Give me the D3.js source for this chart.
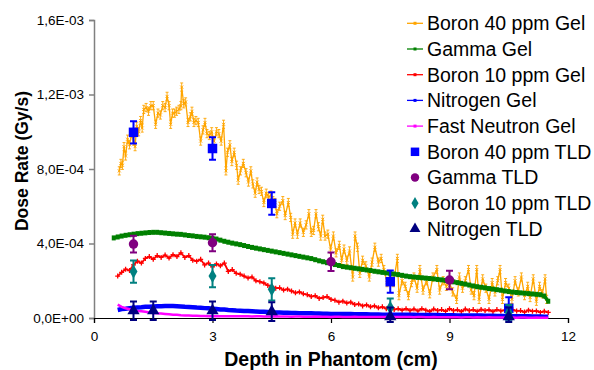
<!DOCTYPE html>
<html>
<head>
<meta charset="utf-8">
<script src="https://cdn.jsdelivr.net/npm/d3@7"></script>
<style>
  body { margin: 0; background: #fff; }
  svg { display: block; font-family: "Liberation Sans", Arial, sans-serif; }
</style>
</head>
<body>
<div class="chart"></div>
<script>
// dose rates are in units of 1e-4 Gy/s
var yTickValues = [0, 4, 8, 12, 16];
var yTickLabels = ["0,0E+00", "4,0E-04", "8,0E-04", "1,2E-03", "1,6E-03"];
var xTickValues = [0, 3, 6, 9, 12];

var boron40Depth = [0.64,0.68,0.72,0.76,0.80,0.85,0.90,0.95,1.00,1.04,1.08,1.13,1.18,1.22,1.26,1.32,1.38,1.44,1.50,1.56,
  1.62,1.68,1.74,1.80,1.85,1.90,1.94,1.99,2.04,2.09,2.15,2.20,2.22,2.27,2.32,2.38,2.44,2.48,2.53,2.58,
  2.64,2.70,2.76,2.81,2.86,2.92,2.98,3.04,3.10,3.16,3.22,3.28,3.34,3.38,3.44,3.49,3.55,3.61,3.65,3.71,
  3.78,3.85,3.91,3.97,4.02,4.08,4.13,4.18,4.24,4.30,4.36,4.42,4.48,4.53,4.58,4.63,4.70,4.78,4.84,4.92,
  4.98,5.03,5.09,5.15,5.22,5.30,5.37,5.44,5.50,5.56,5.62,5.68,5.74,5.79,5.85,5.92,5.99,6.06,6.13,6.21,
  6.27,6.33,6.40,6.47,6.55,6.61,6.67,6.73,6.80,6.88,6.97,7.04,7.11,7.20,7.27,7.34,7.42,7.50,7.58,7.68,
  7.72,7.80,7.88,7.96,8.04,8.10,8.18,8.25,8.33,8.42,8.50,8.58,8.68,8.75,8.84,8.92,9.00,9.08,9.18,9.25,
  9.33,9.40,9.48,9.55,9.62,9.69,9.75,9.84,9.92,10.00,10.08,10.15,10.22,10.28,10.34,10.42,10.50,10.58,10.66,10.74,
  10.82,10.90,10.98,11.04,11.12,11.20,11.28,11.35,11.42,11.46];
var boron40Gel = [7.9,8.3,8.2,9.2,8.7,9.6,9.3,9.9,9.5,9.2,10.3,10.0,10.6,10.2,11.2,11.3,11.1,11.4,11.4,10.4,
  11.0,10.9,11.4,11.3,11.9,11.4,10.4,11.0,11.0,11.1,11.2,11.4,12.4,11.5,11.6,10.5,10.8,11.1,10.5,10.6,
  10.5,9.5,10.1,10.5,9.9,9.8,10.0,9.5,10.0,9.9,9.5,10.4,7.9,8.9,9.3,8.4,8.9,8.2,7.4,7.9,
  8.3,7.8,7.3,7.9,7.2,6.7,7.3,6.9,6.8,6.2,6.7,6.5,6.6,6.3,6.2,5.6,6.0,6.3,5.5,6.2,
  5.4,4.5,5.1,4.5,5.1,4.6,5.0,5.6,4.6,4.7,5.6,4.9,4.4,5.3,4.4,4.5,3.7,4.4,3.5,3.9,
  3.1,3.7,3.1,3.6,2.2,4.4,3.8,2.4,3.1,2.8,2.2,3.0,3.8,3.0,3.2,2.6,1.9,2.3,1.9,3.2,
  1.2,2.0,1.7,1.2,1.9,2.2,1.6,2.6,1.5,2.0,1.3,2.2,2.6,1.5,2.0,1.7,1.9,1.4,1.0,2.2,
  1.6,2.0,2.6,1.5,1.2,2.6,1.0,2.1,1.6,1.0,1.9,1.4,2.0,2.6,1.0,1.9,1.6,1.0,2.0,1.4,
  2.2,1.2,1.7,1.1,2.1,0.9,1.7,1.3,2.1,1.0];
var boron40GelErr = 0.22;

var gelDepth = [0.5,0.6,0.7,0.8,0.9,1.0,1.1,1.2,1.3,1.4,
  1.5,1.6,1.7,1.8,1.9,2.0,2.1,2.2,2.3,2.4,
  2.5,2.6,2.7,2.8,2.9,3.0,3.1,3.2,3.3,3.4,
  3.5,3.6,3.7,3.8,3.9,4.0,4.1,4.2,4.3,4.4,
  4.5,4.6,4.7,4.8,4.9,5.0,5.1,5.2,5.3,5.4,
  5.5,5.6,5.7,5.8,5.9,6.0,6.1,6.2,6.3,6.4,
  6.5,6.6,6.7,6.8,6.9,7.0,7.1,7.2,7.3,7.4,
  7.5,7.6,7.7,7.8,7.9,8.0,8.1,8.2,8.3,8.4,
  8.5,8.6,8.7,8.8,8.9,9.0,9.1,9.2,9.3,9.4,
  9.5,9.6,9.7,9.8,9.9,10.0,10.1,10.2,10.3,10.4,
  10.5,10.6,10.7,10.8,10.9,11.0,11.1,11.2,11.3,11.4,
  11.5];
var gammaGel = [4.30,4.35,4.40,4.44,4.47,4.50,4.53,4.55,4.57,4.59,
  4.60,4.60,4.58,4.56,4.54,4.52,4.50,4.49,4.46,4.43,
  4.41,4.38,4.36,4.34,4.31,4.28,4.24,4.18,4.12,4.07,
  4.02,3.98,3.94,3.89,3.84,3.79,3.75,3.71,3.67,3.63,
  3.59,3.55,3.51,3.47,3.43,3.39,3.35,3.31,3.27,3.23,
  3.19,3.13,3.07,3.02,2.97,2.92,2.87,2.82,2.76,2.73,
  2.70,2.67,2.64,2.61,2.58,2.55,2.51,2.48,2.45,2.42,
  2.39,2.36,2.33,2.29,2.25,2.22,2.20,2.18,2.16,2.14,
  2.12,2.10,2.07,2.05,2.02,1.98,1.94,1.90,1.86,1.82,
  1.77,1.72,1.68,1.65,1.62,1.58,1.55,1.52,1.49,1.45,
  1.42,1.39,1.37,1.35,1.33,1.31,1.29,1.27,1.25,1.18,
  0.90];
var boron10Gel = [null,2.25,2.45,2.62,2.55,2.85,3.05,2.95,3.20,3.30,
  3.15,3.35,3.25,3.38,3.22,3.40,3.30,3.50,3.25,3.35,
  3.10,3.05,3.15,2.85,2.95,2.75,2.90,2.80,2.95,2.50,
  2.60,2.40,2.35,2.25,2.15,2.20,2.00,1.95,1.88,1.75,
  1.70,1.60,1.62,1.50,1.55,1.45,1.35,1.40,1.30,1.25,
  1.15,1.20,1.05,1.10,1.15,1.00,0.95,0.85,0.90,0.80,
  0.85,0.72,0.75,0.65,0.70,0.60,0.65,0.55,0.60,0.50,
  0.55,0.45,0.50,0.42,0.50,0.40,0.48,0.38,0.50,0.42,
  0.35,0.48,0.40,0.45,0.36,0.50,0.40,0.44,0.35,0.48,
  0.40,0.45,0.36,0.46,0.40,0.44,0.35,0.45,0.38,0.42,
  0.33,0.44,0.38,0.40,0.32,0.42,0.36,0.38,0.30,0.36,
  0.30];
var nitrogenGel = [null,0.43,0.48,0.50,0.53,0.55,0.57,0.58,0.60,0.61,
  0.62,0.63,0.63,0.64,0.64,0.64,0.63,0.62,0.60,0.59,
  0.58,0.56,0.55,0.53,0.52,0.50,0.48,0.46,0.45,0.43,
  0.42,0.40,0.39,0.38,0.37,0.36,0.35,0.34,0.33,0.32,
  0.31,0.30,0.29,0.28,0.28,0.27,0.27,0.26,0.26,0.25,
  0.25,0.24,0.24,0.23,0.23,0.22,0.22,0.22,0.21,0.21,
  0.21,0.20,0.20,0.20,0.20,0.19,0.19,0.19,0.18,0.18,
  0.18,0.18,0.17,0.17,0.17,0.17,0.17,0.16,0.16,0.16,
  0.16,0.16,0.16,0.15,0.15,0.15,0.15,0.14,0.14,0.14,
  0.13,0.13,0.13,0.13,0.12,0.12,0.12,0.11,0.11,0.11,
  0.10,0.10,0.10,0.09,0.09,0.09,0.08,0.08,0.08,0.07,
  0.07];
var fastNeutronGel = [null,0.72,0.60,0.52,0.47,0.42,0.38,0.36,0.33,0.30,
  0.27,0.25,0.24,0.22,0.20,0.18,0.17,0.15,0.14,0.13,
  0.12,0.12,0.11,0.11,0.10,0.10,0.10,0.10,0.09,0.09,
  0.09,0.09,0.10,0.09,0.09,0.08,0.09,0.09,0.08,0.08,
  0.08,0.09,0.08,0.08,0.08,0.07,0.08,0.08,0.07,0.07,
  0.07,0.08,0.07,0.07,0.07,0.06,0.07,0.07,0.06,0.06,
  0.06,0.07,0.06,0.06,0.06,0.06,0.05,0.06,0.06,0.05,
  0.05,0.06,0.05,0.05,0.05,0.05,0.04,0.05,0.05,0.04,
  0.04,0.05,0.04,0.04,0.04,0.04,0.04,0.04,0.03,0.04,
  0.04,0.03,0.04,0.03,0.03,0.04,0.03,0.03,0.03,0.03,
  0.03,0.03,0.02,0.03,0.03,0.02,0.02,0.03,0.02,0.02,
  0.02];

var boron40TldDepth = [1.0, 3.0, 4.5, 7.5, 10.5];
var boron40Tld = [9.97, 9.1, 6.15, 1.95, 0.52];
var boron40TldErr = [0.6, 0.6, 0.6, 0.6, 0.6];
var gammaTldDepth = [1.0, 3.0, 6.0, 9.0];
var gammaTld = [3.97, 4.04, 3.02, 2.04];
var gammaTldErr = [0.45, 0.45, 0.5, 0.5];
var boron10TldDepth = [1.0, 3.0, 4.5, 7.5, 10.5];
var boron10Tld = [2.49, 2.25, 1.54, 0.55, 0.3];
var boron10TldErr = [0.6, 0.6, 0.6, 0.5, 0.4];
var nitrogenTldDepth = [1.0, 1.5, 3.0, 4.5, 7.5, 10.5];
var nitrogenTld = [0.39, 0.39, 0.39, 0.34, 0.07, 0.07];
var nitrogenTldErr = [0.5, 0.5, 0.5, 0.5, 0.5, 0.5];

var legendNames = ["Boron 40 ppm Gel", "Gamma Gel", "Boron 10 ppm Gel", "Nitrogen Gel", "Fast Neutron Gel",
  "Boron 40 ppm TLD", "Gamma TLD", "Boron 10 ppm TLD", "Nitrogen TLD"];

function chart() {
  var width = 594, height = 370;
  var svg = d3.select(".chart").append("svg")
    .attr("width", width)
    .attr("height", height);

  var x = d3.scaleLinear().domain([0, 12]).range([94, 568]);
  var y = d3.scaleLinear().domain([0, 16]).range([318, 20]);

  function pts(xs, ys) {
    return xs.map(function(d, i) { return {x: d, y: ys[i]}; })
      .filter(function(d) { return d.y != null; });
  }
  var line = d3.line().x(function(d) { return x(d.x); }).y(function(d) { return y(d.y); });

  // y axis
  var yAxis = svg.append("g")
    .attr("transform", "translate(94,0)")
    .call(d3.axisLeft(y).tickValues(yTickValues).tickSize(5).tickPadding(5)
      .tickFormat(function(d, i) { return yTickLabels[i]; }));
  yAxis.select(".domain").attr("stroke", "#808080").attr("stroke-width", 1.5);
  yAxis.selectAll("line").attr("stroke", "#808080").attr("stroke-width", 1.5);
  yAxis.selectAll("text").attr("font-size", 13.5).attr("fill", "#000")
    .attr("font-family", "'Liberation Sans', Arial, sans-serif");

  // x axis
  var xAxis = svg.append("g")
    .attr("transform", "translate(0,318)")
    .call(d3.axisBottom(x).tickValues(xTickValues).tickSize(5).tickPadding(8));
  xAxis.select(".domain").attr("stroke", "#000").attr("stroke-width", 1.2);
  xAxis.selectAll("line").attr("stroke", "#000").attr("stroke-width", 1.2);
  xAxis.selectAll("text").attr("font-size", 13.5).attr("fill", "#000")
    .attr("font-family", "'Liberation Sans', Arial, sans-serif");

  svg.append("text")
    .attr("x", x(6)).attr("y", 366)
    .attr("text-anchor", "middle")
    .attr("font-weight", "bold").attr("font-size", 19.5)
    .text("Depth in Phantom (cm)");
  svg.append("text")
    .attr("transform", "translate(28,161) rotate(-90)")
    .attr("text-anchor", "middle")
    .attr("font-weight", "bold").attr("font-size", 17.5)
    .text("Dose Rate (Gy/s)");

  var plot = svg.append("g");

  // Boron 40 ppm gel with error bars
  var b40 = pts(boron40Depth, boron40Gel);
  var gB40 = plot.append("g").attr("stroke", "#FFA500").attr("fill", "none");
  gB40.selectAll("path.err").data(b40).enter().append("path")
    .attr("class", "err")
    .attr("stroke-width", 0.9)
    .attr("d", function(d) {
      var cx = x(d.x), t = y(d.y + boron40GelErr), b = y(d.y - boron40GelErr);
      return "M" + cx + "," + t + "V" + b + "M" + (cx - 1.5) + "," + t + "h3M" + (cx - 1.5) + "," + b + "h3";
    });
  gB40.append("path").datum(b40).attr("d", line).attr("stroke-width", 1.3);
  gB40.selectAll("path.mk").data(b40).enter().append("path")
    .attr("class", "mk").attr("stroke-width", 1)
    .attr("d", function(d) {
      var cx = x(d.x), cy = y(d.y);
      return "M" + (cx - 1.5) + "," + (cy - 1.5) + "l3,3M" + (cx - 1.5) + "," + (cy + 1.5) + "l3,-3";
    });

  // Gamma gel
  var gam = pts(gelDepth, gammaGel);
  plot.append("path").datum(gam).attr("d", line)
    .attr("fill", "none").attr("stroke", "#008000").attr("stroke-width", 3.5);
  plot.append("g").selectAll("rect").data(gam).enter().append("rect")
    .attr("x", function(d) { return x(d.x) - 2; })
    .attr("y", function(d) { return y(d.y) - 2.5; })
    .attr("width", 4).attr("height", 5).attr("fill", "#008000");

  // Boron 10 ppm gel
  var b10 = pts(gelDepth, boron10Gel);
  plot.append("path").datum(b10).attr("d", line)
    .attr("fill", "none").attr("stroke", "#FF0000").attr("stroke-width", 1.8);
  plot.append("g").selectAll("path").data(b10).enter().append("path")
    .attr("stroke", "#FF0000").attr("stroke-width", 1.3)
    .attr("d", function(d) {
      var cx = x(d.x), cy = y(d.y);
      return "M" + (cx - 2.5) + "," + cy + "h5M" + cx + "," + (cy - 2.5) + "v5";
    });

  // Nitrogen gel
  var nit = pts(gelDepth, nitrogenGel);
  plot.append("path").datum(nit).attr("d", line)
    .attr("fill", "none").attr("stroke", "#0000FF").attr("stroke-width", 4.5);

  // Fast neutron gel
  var fn = pts(gelDepth, fastNeutronGel);
  plot.append("path").datum(fn).attr("d", line)
    .attr("fill", "none").attr("stroke", "#FF00FF").attr("stroke-width", 2.5);

  // TLD series
  var tlds = [
    {xs: boron40TldDepth, ys: boron40Tld, err: boron40TldErr, color: "#0000FF", sym: d3.symbolSquare, size: 90},
    {xs: gammaTldDepth, ys: gammaTld, err: gammaTldErr, color: "#800080", sym: d3.symbolCircle, size: 70},
    {xs: boron10TldDepth, ys: boron10Tld, err: boron10TldErr, color: "#008080", sym: d3.symbolDiamond, size: 55},
    {xs: nitrogenTldDepth, ys: nitrogenTld, err: nitrogenTldErr, color: "#000080", sym: d3.symbolTriangle, size: 65}
  ];
  tlds.forEach(function(s) {
    var data = s.xs.map(function(d, i) { return {x: d, y: s.ys[i], e: s.err[i]}; });
    var g = plot.append("g");
    g.selectAll("path.err").data(data).enter().append("path")
      .attr("class", "err")
      .attr("fill", "none").attr("stroke", s.color).attr("stroke-width", 2)
      .attr("d", function(d) {
        var cx = x(d.x), t = y(d.y + d.e), b = Math.min(y(d.y - d.e), 322);
        return "M" + cx + "," + t + "V" + b + "M" + (cx - 3.5) + "," + t + "h7M" + (cx - 3.5) + "," + b + "h7";
      });
    g.selectAll("path.mk").data(data).enter().append("path")
      .attr("class", "mk")
      .attr("transform", function(d) { return "translate(" + x(d.x) + "," + y(d.y) + ")"; })
      .attr("d", d3.symbol().type(s.sym).size(s.size))
      .attr("fill", s.color);
  });

  // legend
  var gelColors = ["#FFA500", "#008000", "#FF0000", "#0000FF", "#FF00FF"];
  var leg = svg.append("g");
  legendNames.forEach(function(name, i) {
    var cy = 23.3 + i * 25.7;
    if (i < 5) {
      leg.append("line").attr("x1", 407).attr("x2", 423).attr("y1", cy).attr("y2", cy)
        .attr("stroke", gelColors[i]).attr("stroke-width", 1.3);
      leg.append("rect").attr("x", 413.5).attr("y", cy - 1.5).attr("width", 3).attr("height", 3)
        .attr("fill", gelColors[i]);
    } else {
      var s = tlds[i - 5];
      leg.append("path")
        .attr("transform", "translate(415," + cy + ")")
        .attr("d", d3.symbol().type(s.sym).size(s.size * 0.8))
        .attr("fill", s.color);
    }
    leg.append("text").attr("x", 427).attr("y", cy).attr("dy", "0.35em")
      .attr("font-size", 19.5).attr("fill", "#000").text(name);
  });
}

chart();
</script>
</body>
</html>
